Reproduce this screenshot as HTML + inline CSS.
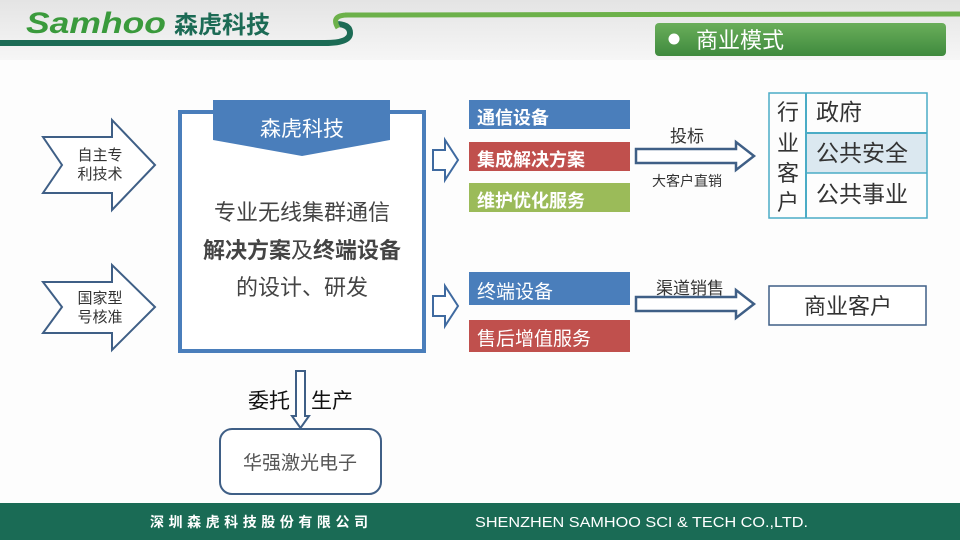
<!DOCTYPE html>
<html><head><meta charset="utf-8"><style>
body{margin:0;width:960px;height:540px;overflow:hidden;background:#fff;font-family:"Liberation Sans","Noto Sans CJK SC",sans-serif;}
</style></head><body>
<svg width="960" height="540" viewBox="0 0 960 540" xmlns="http://www.w3.org/2000/svg" font-family="Liberation Sans, Noto Sans CJK SC, sans-serif">
<defs>
<linearGradient id="top" x1="0" y1="0" x2="0" y2="1"><stop offset="0" stop-color="#e4e4e4"/><stop offset="1" stop-color="#f6f6f6"/></linearGradient>
<linearGradient id="tg" x1="0" y1="0" x2="0" y2="1"><stop offset="0" stop-color="#6aae5a"/><stop offset="1" stop-color="#3f8a3e"/></linearGradient>
</defs>
<rect x="0" y="0" width="960" height="60" fill="url(#top)"/>
<rect x="0" y="60" width="960" height="443" fill="#fdfdfd"/>
<!-- header curves -->
<path d="M0 43 L325 43 Q350 43 350 33 Q350 25 338 24" stroke="#1c6b55" stroke-width="6" fill="none"/>
<path d="M345 15 L960 14" stroke="#6cb14a" stroke-width="5" fill="none"/>
<path d="M338 28 Q330 15 348 15" stroke="#6cb14a" stroke-width="5" fill="none"/>
<text x="26" y="33" font-size="30" font-weight="bold" font-style="italic" fill="#3a9a3c" textLength="140" lengthAdjust="spacingAndGlyphs">Samhoo</text>
<text x="174" y="33" font-size="24" font-weight="bold" fill="#1c6b55">森虎科技</text>
<!-- title -->
<rect x="655" y="23" width="291" height="33" rx="4" fill="url(#tg)"/>
<circle cx="674" cy="39" r="5.5" fill="#fff"/>
<text x="696" y="48" font-size="22" fill="#fff">商业模式</text>
<!-- left arrows -->
<path d="M43 137 L112 137 L112 120 L155 165 L112 210 L112 193 L43 193 L62 165 Z" fill="#fff" stroke="#3f5f86" stroke-width="2"/>
<text x="100" y="160" font-size="15" text-anchor="middle" fill="#333">自主专</text>
<text x="100" y="179" font-size="15" text-anchor="middle" fill="#333">利技术</text>
<path d="M43 282 L112 282 L112 265 L155 307 L112 350 L112 333 L43 333 L62 307 Z" fill="#fff" stroke="#3f5f86" stroke-width="2"/>
<text x="100" y="303" font-size="15" text-anchor="middle" fill="#333">国家型</text>
<text x="100" y="322" font-size="15" text-anchor="middle" fill="#333">号核准</text>
<!-- main box -->
<rect x="180" y="112" width="244" height="239" fill="#fff" stroke="#4a7ebb" stroke-width="4"/>
<path d="M213 100 L390 100 L390 140 L302 156 L213 140 Z" fill="#4a7ebb"/>
<text x="302" y="136" font-size="21" text-anchor="middle" fill="#fff">森虎科技</text>
<text x="302" y="220" font-size="22" text-anchor="middle" fill="#444">专业无线集群通信</text>
<text x="302" y="258" font-size="22" font-weight="bold" text-anchor="middle" fill="#444">解决方案<tspan font-weight="normal">及</tspan>终端设备</text>
<text x="302" y="295" font-size="22" text-anchor="middle" fill="#444">的设计、研发</text>
<!-- small arrows -->
<path d="M433 150 L445 150 L445 140 L458 160 L445 180 L445 170 L433 170 Z" fill="#fff" stroke="#3f6aa0" stroke-width="2"/>
<path d="M433 296 L445 296 L445 286 L458 306 L445 326 L445 316 L433 316 Z" fill="#fff" stroke="#3f6aa0" stroke-width="2"/>
<!-- bars -->
<rect x="469" y="100" width="161" height="29" fill="#4a7ebb"/>
<text x="477" y="124" font-size="18" font-weight="bold" fill="#fff">通信设备</text>
<rect x="469" y="142" width="161" height="29" fill="#c0504d"/>
<text x="477" y="166" font-size="18" font-weight="bold" fill="#fff">集成解决方案</text>
<rect x="469" y="183" width="161" height="29" fill="#9bbb59"/>
<text x="477" y="207" font-size="18" font-weight="bold" fill="#fff">维护优化服务</text>
<rect x="469" y="272" width="161" height="33" fill="#4a7ebb"/>
<text x="477" y="298" font-size="19" fill="#fff">终端设备</text>
<rect x="469" y="320" width="161" height="32" fill="#c0504d"/>
<text x="477" y="345" font-size="19" fill="#fff">售后增值服务</text>
<!-- big arrows -->
<path d="M636 149 L736 149 L736 142 L754 156 L736 170 L736 163 L636 163 Z" fill="#fff" stroke="#3f5f86" stroke-width="2.5"/>
<text x="687" y="142" font-size="17" text-anchor="middle" fill="#333">投标</text>
<text x="687" y="186" font-size="14" text-anchor="middle" fill="#333">大客户直销</text>
<path d="M636 297 L736 297 L736 290 L754 304 L736 318 L736 311 L636 311 Z" fill="#fff" stroke="#3f5f86" stroke-width="2.5"/>
<text x="690" y="294" font-size="17" text-anchor="middle" fill="#333">渠道销售</text>
<!-- table -->
<rect x="807" y="133" width="120" height="40" fill="#dbe8f0"/>
<rect x="769" y="93" width="158" height="125" fill="none" stroke="#4bacc6" stroke-width="1.5"/>
<line x1="806" y1="93" x2="806" y2="218" stroke="#4bacc6" stroke-width="2"/>
<line x1="806" y1="133" x2="927" y2="133" stroke="#4bacc6" stroke-width="2"/>
<line x1="806" y1="173" x2="927" y2="173" stroke="#4bacc6" stroke-width="1.5"/>
<g font-size="22" fill="#333" text-anchor="middle">
<text x="788" y="120">行</text><text x="788" y="151">业</text><text x="788" y="181">客</text><text x="788" y="210">户</text>
</g>
<text x="816" y="120" font-size="23" fill="#333">政府</text>
<text x="816" y="161" font-size="23" fill="#333">公共安全</text>
<text x="816" y="202" font-size="23" fill="#333">公共事业</text>
<rect x="769" y="286" width="157" height="39" fill="#fff" stroke="#3f5f86" stroke-width="1.5"/>
<text x="848" y="314" font-size="22" text-anchor="middle" fill="#333">商业客户</text>
<!-- down arrow -->
<path d="M296 371 L305 371 L305 416 L309 416 L300.5 428 L292 416 L296 416 Z" fill="#fff" stroke="#3f5f86" stroke-width="2"/>
<text x="269" y="408" font-size="21" text-anchor="middle" fill="#111">委托</text>
<text x="332" y="408" font-size="21" text-anchor="middle" fill="#111">生产</text>
<rect x="220" y="429" width="161" height="65" rx="12" fill="#fff" stroke="#3f5f86" stroke-width="2"/>
<text x="300" y="469" font-size="19" text-anchor="middle" fill="#555">华强激光电子</text>
<!-- footer -->
<rect x="0" y="503" width="960" height="37" fill="#1a6b55"/>
<text x="150" y="527" font-size="14" font-weight="bold" fill="#fff" textLength="218" lengthAdjust="spacing">深圳森虎科技股份有限公司</text>
<text x="475" y="527" font-size="15" fill="#fff" textLength="333" lengthAdjust="spacingAndGlyphs">SHENZHEN SAMHOO SCI &amp; TECH CO.,LTD.</text>
</svg>
</body></html>
